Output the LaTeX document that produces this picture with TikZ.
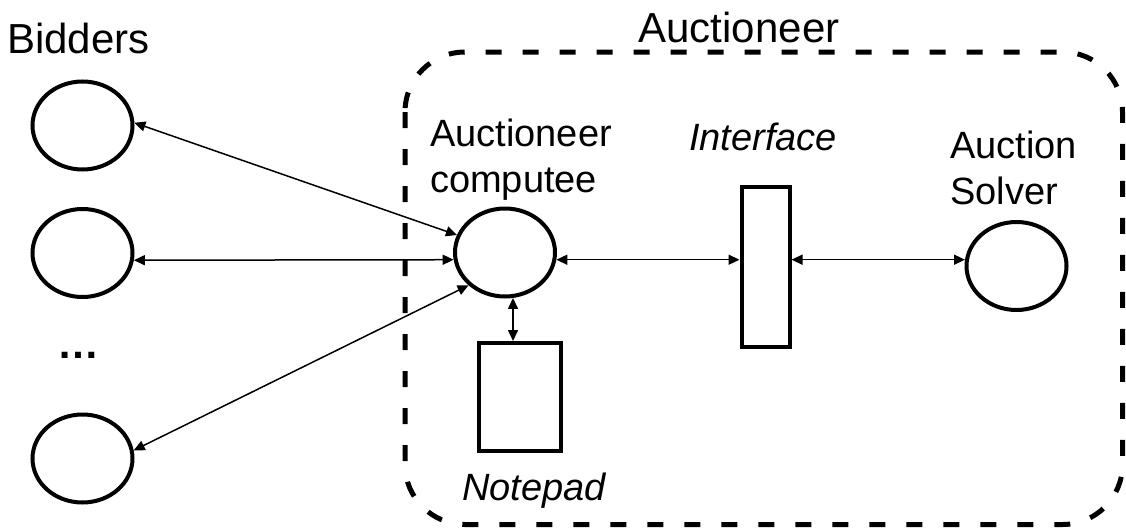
\documentclass[tikz,border=0pt]{standalone}
\usepackage{fontspec}
\setmainfont{Liberation Sans}
\usetikzlibrary{arrows.meta,shapes.geometric}
\begin{document}
\begin{tikzpicture}[x=1pt,y=-1pt,
  agent/.style={ellipse,draw,line width=4pt,minimum width=100pt,minimum height=88pt,inner sep=0pt},
  store/.style={rectangle,draw,line width=4pt,inner sep=0pt},
  link/.style={line width=1.5pt,{Triangle[length=11pt,width=10pt]}-{Triangle[length=11pt,width=10pt]}},
  big/.style={font=\fontsize{42}{48}\selectfont,inner sep=0pt},
  lbl/.style={font=\fontsize{38}{46}\selectfont,inner sep=0pt},
  boundary/.style={line width=5pt,dash pattern=on 16pt off 21pt,rounded corners=60pt}
]
\useasboundingbox (0,0) rectangle (1126,530);

% auctioneer boundary
\draw[boundary] (405,52) rectangle (1122.5,524.5);

% bidders
\node[agent] (b1) at (82.5,125.5) {};
\node[agent] (b2) at (82.5,253) {};
\node[agent] (b3) at (82.5,458.5) {};
\node[anchor=base,inner sep=0pt,font=\fontsize{42}{48}\selectfont\bfseries] (dots) at (78,358) {…};

% auctioneer parts
\node[agent] (ac) at (505,252.5) {};
\node[agent] (sv) at (1016.5,266) {};
\node[store,minimum width=82pt,minimum height=108pt] (np) at (520,397) {};
\node[store,minimum width=48pt,minimum height=160pt] (if) at (765.5,266.5) {};

% labels (multi-line nodes are placed by the baseline of their last line)
\node[big,anchor=base west] (tb) at (7,53) {Bidders};
\node[big,anchor=base] (ta) at (739,42) {Auctioneer};
\node[lbl,anchor=base west,align=left] (tac) at (430,192) {Auctioneer\\computee};
\node[lbl,anchor=base west,align=left] (tsv) at (950,204) {Auction\\Solver};
\node[lbl,anchor=base] (tif) at (763,150) {\itshape Interface};
\node[lbl,anchor=base] (tnp) at (534,500) {\itshape Notepad};

% message links
\draw[link] (b1.3) -- (ac.160);
\draw[link] (b2.-8) -- (ac.188);
\draw[link] (b3.9) -- (ac.222);
\draw[link] (ac.-80) -- (ac.-80 |- np.north);
\draw[link] (ac.-8) -- (ac.-8 -| if.west);
\draw[link] (if.east |- sv.173) -- (sv.173);
\end{tikzpicture}
\end{document}
